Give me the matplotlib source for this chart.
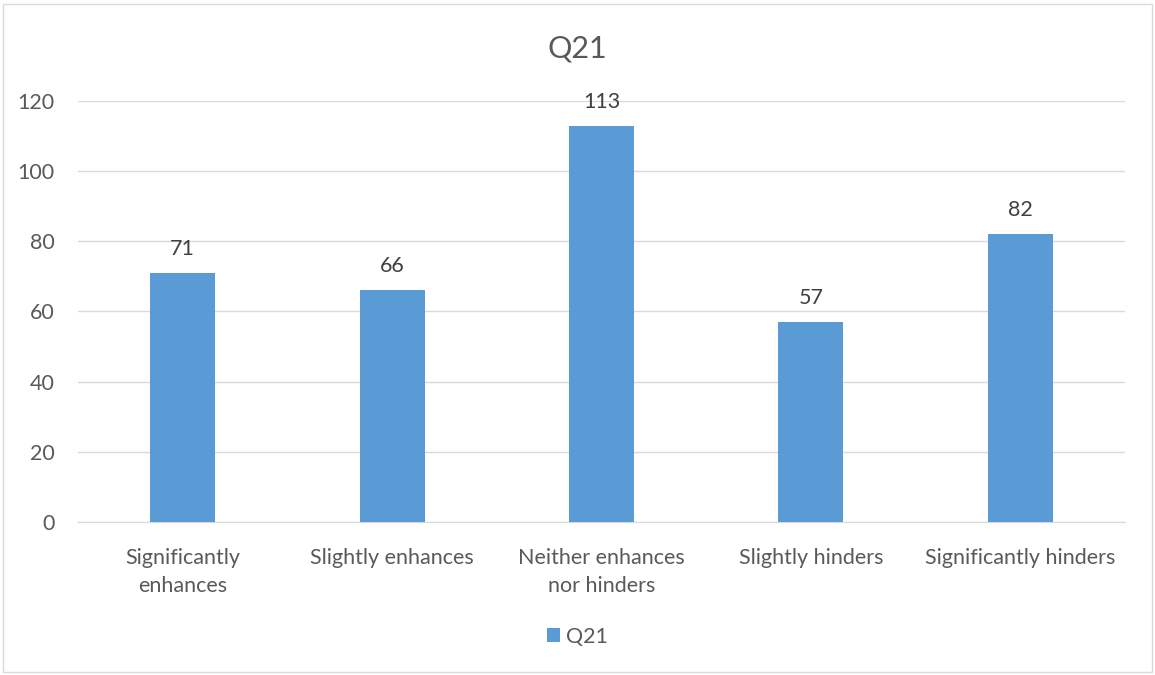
import matplotlib.pyplot as plt
from matplotlib.patches import Rectangle

# -----------------------------
# Dados
# -----------------------------
categorias = ["Significantly\nenhances", "Slightly enhances", "Neither enhances\nnor hinders",
              "Slightly hinders", "Significantly hinders"]
valores = [71, 66, 113, 57, 82]
yticks = [0, 20, 40, 60, 80, 100, 120]

plt.rcParams['font.family'] = ['Lato', 'DejaVu Sans']

cor_barra = "#5B9BD5"
cor_texto = "#595959"
cor_grade = "#D9D9D9"
tam = 15.5

fig = plt.figure(figsize=(11.55, 6.75), dpi=100)
ax = fig.add_axes([0.0675, 0.2267, 0.9065, 0.6237])

x = range(len(categorias))
barras = ax.bar(x, valores, width=0.31, color=cor_barra, zorder=3, label="Q21")

# rótulos de valor em cima das barras
for xi, v in zip(x, valores):
    ax.text(xi, v + 4, str(v), ha="center", va="bottom", fontsize=tam, color="#404040")

ax.set_xlim(-0.5, len(categorias) - 0.5)
ax.set_ylim(0, 120)
ax.set_yticks(yticks)
ax.set_xticks(list(x))
ax.set_xticklabels(categorias, fontsize=tam, color=cor_texto, linespacing=1.45)
ax.tick_params(axis="y", labelsize=tam, labelcolor=cor_texto, length=0, pad=17)
ax.tick_params(axis="x", length=0, pad=19)
ax.grid(axis="y", color=cor_grade, linewidth=1, zorder=0)

for lado in ["top", "right", "left"]:
    ax.spines[lado].set_visible(False)
ax.spines["bottom"].set_color(cor_grade)

fig.text(0.5, 0.928, "Q21", ha="center", va="center", fontsize=22, color=cor_texto)

ax.legend(loc="center", bbox_to_anchor=(0.5, 0.057), bbox_transform=fig.transFigure,
          frameon=False, fontsize=tam, labelcolor=cor_texto, handlelength=0.6,
          handleheight=0.6, handletextpad=0.25)

# moldura em volta da figura
fig.patches.append(Rectangle((0.003, 0.004), 0.994, 0.99, transform=fig.transFigure,
                             fill=False, edgecolor="#D9D9D9", linewidth=1))

plt.savefig("out.png", dpi=100)
